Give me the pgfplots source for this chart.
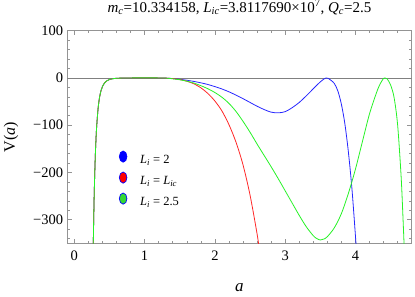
\documentclass[border=0pt]{standalone}
\usepackage{fontspec}
\setmainfont{Liberation Serif}
\usepackage{pgfplots}
\pgfplotsset{compat=1.18}
\definecolor{framegray}{rgb}{0.58,0.58,0.58}
\definecolor{zerogray}{rgb}{0.5,0.5,0.5}
\definecolor{cblue}{rgb}{0.15,0.15,1}
\definecolor{cred}{rgb}{1,0.15,0.15}
\definecolor{cgreen}{rgb}{0.15,0.95,0.15}
\definecolor{lgreen}{rgb}{0.2,0.85,0.2}
\newcommand{\tfont}{\fontsize{14.5}{17}\selectfont}
\begin{document}
\begin{tikzpicture}
\begin{axis}[
  width=344.4pt, height=212.7pt, scale only axis,
  xmin=-0.1, xmax=4.8, ymin=-350, ymax=100,
  xtick={0,1,2,3,4}, xticklabels={0,1,2,3,4},
  ytick={-300,-200,-100,0,100}, yticklabels={−300,−200,−100,0,100},
  minor xtick={0,0.2,...,4.7},
  minor ytick={-340,-320,...,90},
  tick align=inside,
  major tick length=4.5pt, minor tick length=2.7pt,
  axis line style={color=framegray, line width=0.6pt},
  every tick/.style={color=framegray, line width=0.5pt},
  tick label style={font=\tfont, text=black},
  xticklabel style={anchor=north, inner sep=0pt, yshift=-7.5pt},
  yticklabel style={anchor=east, inner sep=0pt, xshift=-4pt},
  title={\textit{m}\textsubscript{\textit{c}}=10.334158, \textit{L}\textsubscript{\textit{ic}}=3.8117690\texttimes10\textsuperscript{7}, \textit{Q}\textsubscript{\textit{c}}=2.5},
  title style={at={(0.5,1)}, anchor=base, yshift=12.5pt, font=\fontsize{15}{18}\selectfont, inner sep=0pt},
  xlabel={\textit{a}},
  xlabel style={at={(0.5,0)}, anchor=base, yshift=-48pt, font=\fontsize{17}{20}\selectfont, inner sep=0pt},
  ylabel={V(\textit{a})},
  ylabel style={at={(0,0.5)}, anchor=center, yshift=56.3pt, font=\fontsize{16}{19}\selectfont, inner sep=0pt},
  legend style={draw=none, fill=none, at={(0.1495,0.458)}, anchor=north west, inner sep=0pt, row sep=0pt,
    nodes={inner sep=0pt, font=\fontsize{12.5}{15}\selectfont}},
  legend cell align=left,
]
\addplot[zerogray, line width=0.6pt, forget plot] coordinates {(-0.1,0) (4.8,0)};
% L_i = 2
\addplot[cblue, line width=0.8pt, smooth, forget plot] coordinates {
(0.26,-463) (0.27,-350) (0.28,-266) (0.29,-205) (0.30,-159) (0.31,-124) (0.32,-98)
(0.34,-62) (0.36,-40.4) (0.38,-26.9) (0.40,-18.4) (0.43,-10.7) (0.46,-6.5) (0.50,-3.4)
(0.55,-1.7) (0.60,-0.9) (0.70,-0.3) (0.80,-0.1) (0.90,0) (1.00,0) (1.10,0) (1.20,-0.1)
(1.3,-0.5) (1.4,-1.5) (1.5,-3) (1.6,-5) (1.7,-7.5) (1.8,-10.5) (1.9,-14) (2.0,-18.5)
(2.1,-23.5) (2.2,-29.5) (2.3,-36.5) (2.4,-44) (2.5,-52) (2.6,-60) (2.7,-67) (2.8,-72.5)
(2.9,-74) (3.0,-71.5) (3.1,-63) (3.2,-52) (3.3,-38) (3.4,-23) (3.45,-15.5) (3.5,-8.5)
(3.55,-2.5) (3.58,-0.3) (3.61,-0.8) (3.65,-5) (3.70,-12) (3.75,-28) (3.80,-56)
(3.85,-98) (3.90,-158) (3.95,-235) (4.00,-335) (4.03,-400)};
% L_i = L_ic
\addplot[cred, line width=0.8pt, smooth, forget plot] coordinates {
(0.26,-463) (0.27,-350) (0.28,-266) (0.29,-205) (0.30,-159) (0.31,-124) (0.32,-98)
(0.34,-62) (0.36,-40.4) (0.38,-26.9) (0.40,-18.4) (0.43,-10.7) (0.46,-6.5) (0.50,-3.4)
(0.55,-1.7) (0.60,-0.9) (0.70,-0.3) (0.80,-0.1) (0.90,0) (1.00,0) (1.10,0) (1.20,-0.1)
(1.3,-0.5) (1.4,-1.5) (1.5,-3.5) (1.6,-7) (1.7,-12.5) (1.8,-21) (1.9,-33) (2.0,-49)
(2.1,-70) (2.2,-99) (2.3,-136) (2.4,-184) (2.5,-248) (2.6,-330) (2.65,-380)};
% L_i = 2.5
\addplot[cgreen, line width=0.8pt, smooth, forget plot] coordinates {
(0.26,-463) (0.27,-350) (0.28,-266) (0.29,-205) (0.30,-159) (0.31,-124) (0.32,-98)
(0.34,-62) (0.36,-40.4) (0.38,-26.9) (0.40,-18.4) (0.43,-10.7) (0.46,-6.5) (0.50,-3.4)
(0.55,-1.7) (0.60,-0.9) (0.70,-0.3) (0.80,-0.1) (0.90,0) (1.00,0) (1.10,0) (1.20,-0.1)
(1.3,-0.5) (1.4,-2) (1.5,-4) (1.6,-7) (1.7,-11) (1.8,-16.5) (1.9,-23) (2.0,-31)
(2.1,-41) (2.2,-54) (2.3,-71) (2.4,-92) (2.5,-115) (2.6,-140) (2.7,-164) (2.8,-188)
(2.9,-213) (3.0,-239) (3.1,-265) (3.2,-291) (3.3,-315) (3.4,-334) (3.45,-340) (3.5,-343)
(3.55,-341) (3.6,-336) (3.7,-317) (3.8,-287) (3.9,-244) (4.0,-193) (4.1,-134) (4.2,-76)
(4.3,-31) (4.35,-13) (4.40,-1) (4.42,-0.2) (4.45,-2) (4.5,-15) (4.55,-42) (4.6,-100)
(4.65,-210) (4.68,-310) (4.71,-420)};
\addlegendimage{legend image code/.code={\path[draw=none, fill=none] (0pt,-6.5pt) rectangle (21pt,14.5pt); \draw[draw=blue, fill=blue, line width=0.7pt] (4pt,4pt) ellipse [x radius=3.8pt, y radius=5.6pt];}}
\addlegendentry{\textit{L}\textsubscript{\textit{i}} = 2}
\addlegendimage{legend image code/.code={\path[draw=none, fill=none] (0pt,-6.5pt) rectangle (21pt,14.5pt); \draw[draw=blue, fill=red, line width=0.7pt] (4pt,4pt) ellipse [x radius=3.8pt, y radius=5.6pt];}}
\addlegendentry{\textit{L}\textsubscript{\textit{i}} = \textit{L}\textsubscript{\textit{ic}}}
\addlegendimage{legend image code/.code={\path[draw=none, fill=none] (0pt,-6.5pt) rectangle (21pt,14.5pt); \draw[draw=blue, fill=lgreen, line width=0.7pt] (4pt,4pt) ellipse [x radius=3.8pt, y radius=5.6pt];}}
\addlegendentry{\textit{L}\textsubscript{\textit{i}} = 2.5}
\end{axis}
\path (-67.3pt,-53pt) rectangle (347.7pt,241pt);
\end{tikzpicture}
\end{document}
